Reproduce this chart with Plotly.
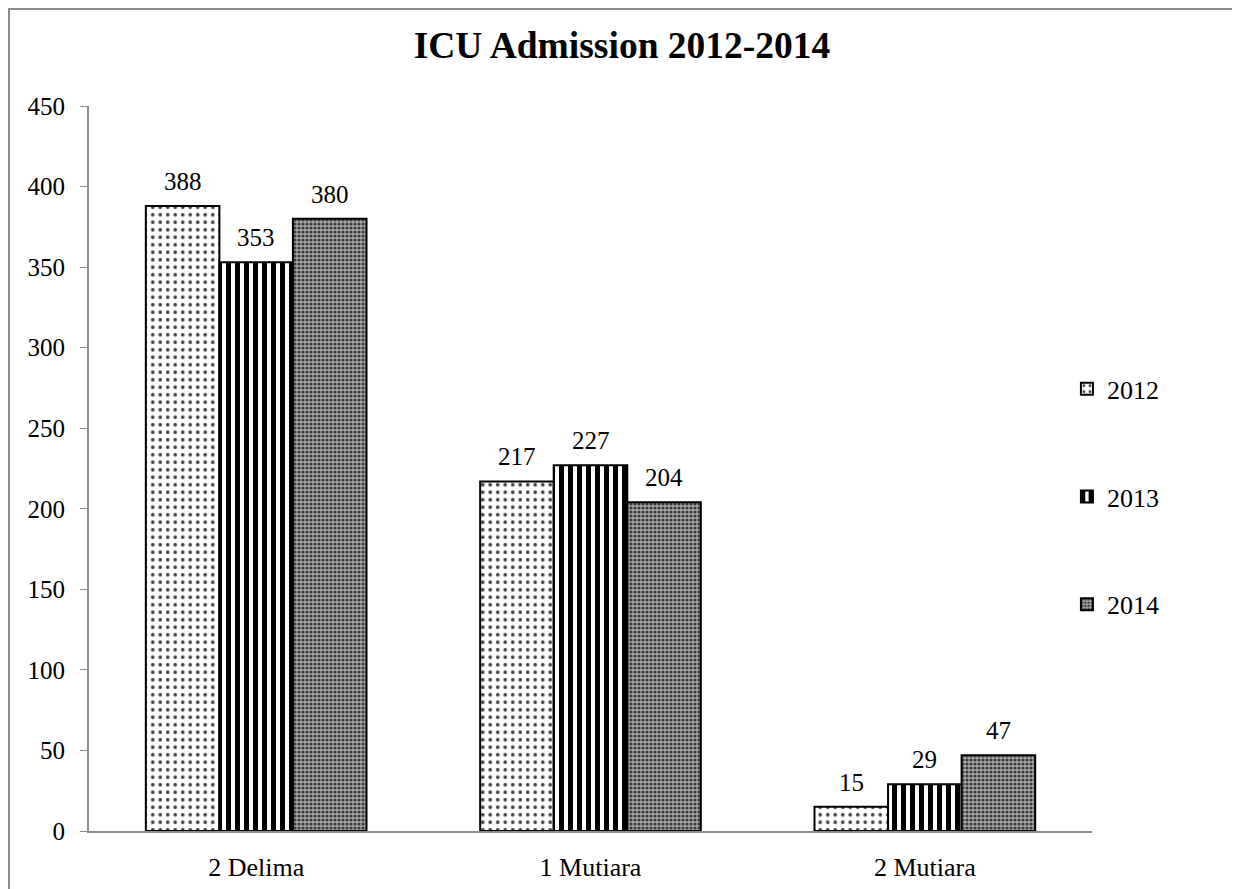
import plotly.graph_objects as go

categories = ["2 Delima", "1 Mutiara", "2 Mutiara"]
years = ["2012", "2013", "2014"]
v2012 = [388, 217, 15]
v2013 = [353, 227, 29]
v2014 = [380, 204, 47]
y_ticks = [0, 50, 100, 150, 200, 250, 300, 350, 400, 450]

FONT = "Liberation Serif, Times New Roman, serif"
BARGAP = 0.34

# page is rendered with an 8px body margin, so figure coords = screen - 8
L, T = 81, 98
PW, PH = 1003, 725
W, H = 1240, 889

patterns = [
    dict(shape=".", fgcolor="#3c3c3c", bgcolor="white", size=7.5, solidity=0.18, fillmode="replace"),
    dict(shape="|", fgcolor="black", bgcolor="white", size=9, solidity=0.55, fillmode="replace"),
    dict(shape=".", fgcolor="#3a3a3a", bgcolor="#a8a8a8", size=4, solidity=0.5, fillmode="replace"),
]

fig = go.Figure()
series = [v2012, v2013, v2014]
for name, vals, pat in zip(years, series, patterns):
    fig.add_trace(go.Bar(
        name=name, x=categories, y=vals, legendgroup=name,
        marker=dict(color="white", pattern=pat, line=dict(color="black", width=2)),
    ))

# value labels above bars (offset within the group, in category units)
bw = (1 - BARGAP) / len(series)
for si, vals in enumerate(series):
    off = (si - (len(series) - 1) / 2) * bw
    for ci, v in enumerate(vals):
        fig.add_annotation(x=ci + off, y=v, xref="x", yref="y", text=str(v),
                           showarrow=False, yanchor="bottom", yshift=9,
                           font=dict(family=FONT, size=25, color="black"))

fig.update_layout(
    width=W, height=H,
    paper_bgcolor="white", plot_bgcolor="white",
    margin=dict(l=L, r=W - L - PW, t=T, b=H - T - PH),
    barmode="group", bargap=BARGAP, bargroupgap=0,
    title=dict(text="<b>ICU Admission 2012-2014</b>", x=614 / W, xanchor="center",
               xref="container", y=1 - 37 / H, yanchor="middle",
               font=dict(family=FONT, size=37.5, color="black")),
    font=dict(family=FONT, size=25, color="black"),
    legend=dict(x=0.975, xanchor="left", y=0.461, yanchor="middle",
                font=dict(family=FONT, size=26, color="black"),
                tracegroupgap=71, itemwidth=30, bgcolor="rgba(0,0,0,0)"),
    showlegend=True,
)
fig.update_xaxes(showline=True, linecolor="#8c8c8c", linewidth=2, ticks="",
                 tickfont=dict(family=FONT, size=26, color="black"), showgrid=False,
                 ticklabelstandoff=12)
fig.update_yaxes(range=[0, 450], tickvals=y_ticks, showline=True, linecolor="#8c8c8c",
                 linewidth=2, ticks="outside", tickcolor="#8c8c8c", ticklen=7,
                 tickfont=dict(family=FONT, size=25, color="black"), showgrid=False,
                 zeroline=False, ticklabelstandoff=10)

# outer chart border
fig.add_shape(type="rect", xref="paper", yref="paper",
              x0=(1 - L) / PW, x1=(1225 - L) / PW,
              y0=-(H + 20 - T - PH) / PH, y1=1 + (T - 1) / PH,
              line=dict(color="#8c8c8c", width=2), fillcolor="rgba(0,0,0,0)", layer="below")

fig.write_html("out.html")
